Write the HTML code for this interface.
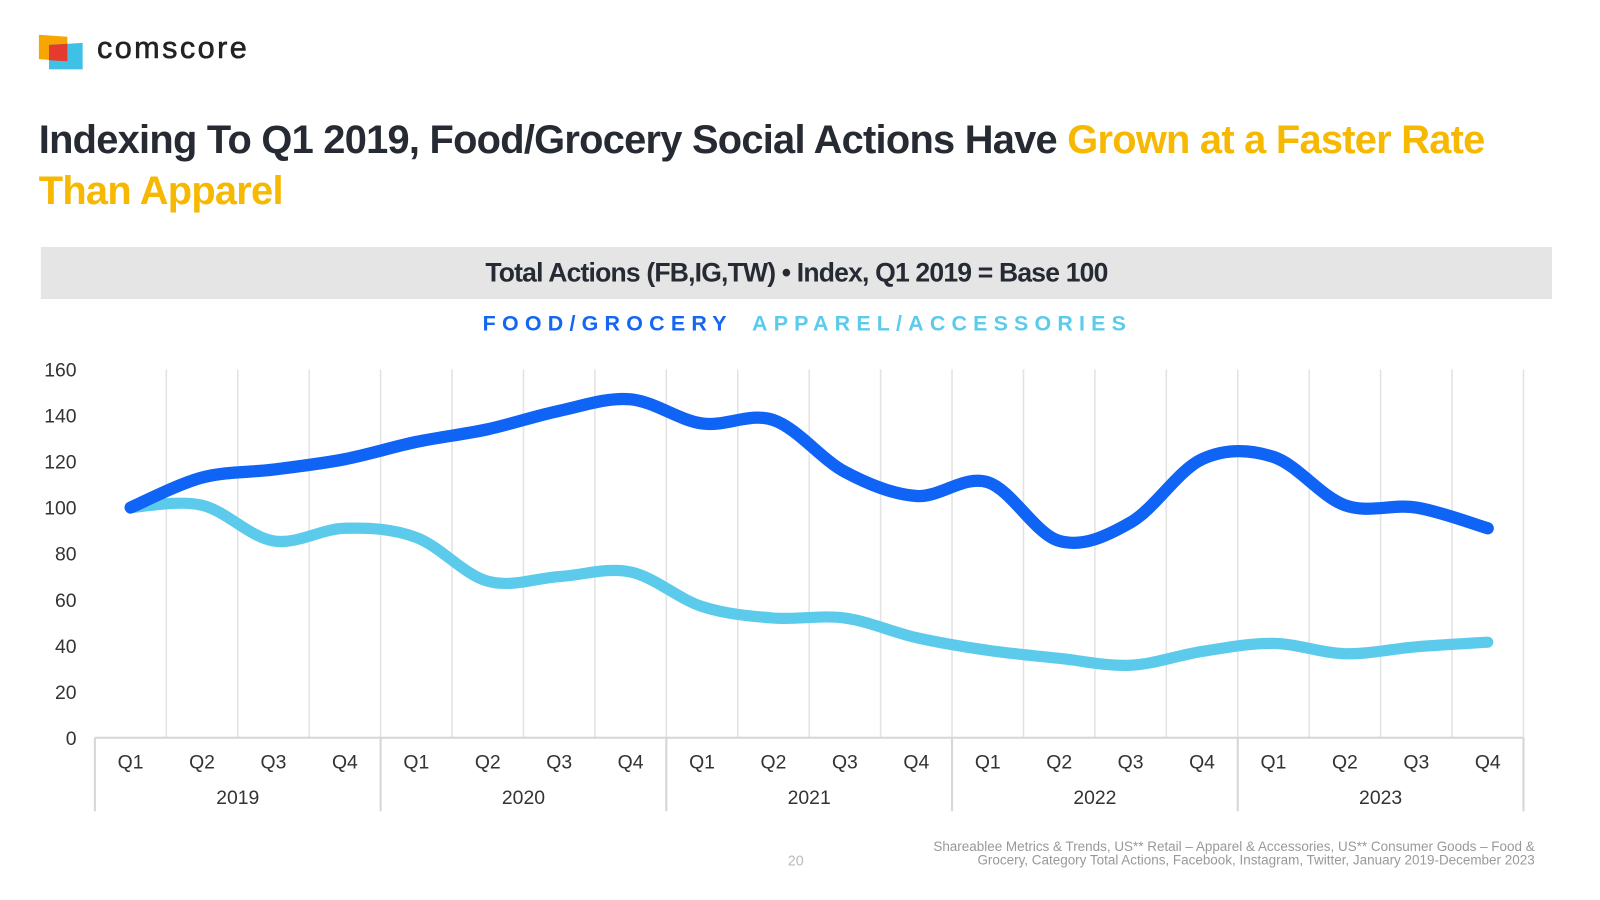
<!DOCTYPE html>
<html><head><meta charset="utf-8"><style>
body{margin:0;width:1600px;height:900px;background:#fff;font-family:"Liberation Sans",sans-serif;overflow:hidden}
#wrap{position:absolute;left:0;top:0;width:1568px;height:882px;transform:scale(1.020408);transform-origin:0 0}
.abs{position:absolute}
</style></head><body>
<div id="wrap">
<div class="abs" style="left:38px;top:34px;width:220px;height:36px">
<svg width="50" height="36" style="position:absolute;left:0;top:0">
<polygon points="0,0 28,2 28,26 0,24" fill="#f7a600"/>
<polygon points="10,10 43,8 43,34 10,34" fill="#3fc1e6"/>
<polygon points="10,10 28,9 28,26 10,25" fill="#e63a2e"/>
</svg>
<span style="position:absolute;left:57px;top:-3px;font-size:30px;color:#222;letter-spacing:2.4px;-webkit-text-stroke:0.6px #222">comscore</span>
</div>
<div class="abs" style="left:38px;top:113px;width:1440px;font-size:39px;font-weight:bold;letter-spacing:-0.72px;line-height:50px;color:#262a33">Indexing To Q1 2019, Food/Grocery Social Actions Have <span style="color:#f6b800">Grown at a Faster Rate Than Apparel</span></div>
<div class="abs" style="left:40px;top:242px;width:1481px;height:51px;background:#e5e5e5;text-align:center;line-height:51px;font-size:26px;font-weight:bold;letter-spacing:-0.8px;color:#262a33">Total Actions (FB,IG,TW) • Index, Q1 2019 = Base 100</div>
<div class="abs" style="left:473px;top:306px;font-size:21px;font-weight:bold;letter-spacing:6.1px;color:#1466f4">FOOD/GROCERY</div>
<div class="abs" style="left:737px;top:306px;font-size:21px;font-weight:bold;letter-spacing:6.05px;color:#5ccbeb">APPAREL/ACCESSORIES</div>
<svg class="abs" id="chart" style="left:0;top:0" width="1568" height="882"></svg>
<div class="abs" style="left:772px;top:835px;font-size:14px;color:#bbb">20</div>
<div class="abs" style="left:864px;top:823px;width:640px;text-align:right;font-size:13.2px;line-height:13px;color:#999">Shareablee Metrics &amp; Trends, US** Retail – Apparel &amp; Accessories, US** Consumer Goods – Food &amp;<br>Grocery, Category Total Actions, Facebook, Instagram, Twitter, January 2019-December 2023</div>
</div>
<script>
const quarters=["Q1","Q2","Q3","Q4"];
const years=["2019","2020","2021","2022","2023"];
const yTicks=[0,20,40,60,80,100,120,140,160];
const foodValues=[100,113,116.5,121,128.5,134,142,147,136.5,138,115.5,105,111,85.5,93.5,121,122,101,100,91];
const apparelValues=[100,101,85.5,91,87,68,70,72,57,52,52,43.5,38,34.5,31.5,37.5,41,36.5,39.5,41.5];
const svg=document.getElementById('chart');
const NS='http://www.w3.org/2000/svg';
const x0=93,step=70,yBase=723,yTop=362,yMax=160;
const xPos=i=>x0+step*(i+0.5);
const yPos=v=>yBase-(v/yMax)*(yBase-yTop);
function mk(t,a){const e=document.createElementNS(NS,t);for(const k in a)e.setAttribute(k,a[k]);svg.appendChild(e);return e;}
const n=years.length*quarters.length;
for(let i=1;i<=n;i++){const g=mk('line',{x1:x0+step*i,x2:x0+step*i,y1:yTop,y2:yBase,stroke:'#e3e3e3','stroke-width':1.5});

}
const ax=mk('line',{x1:x0,x2:x0+step*n,y1:yBase,y2:yBase,stroke:'#d6d6d6','stroke-width':2});


for(let k=0;k<=years.length;k++){const t=mk('line',{x1:x0+step*4*k,x2:x0+step*4*k,y1:yBase,y2:795,stroke:'#d6d6d6','stroke-width':2});

}
yTicks.forEach(v=>{const t=mk('text',{x:75,y:yPos(v)+7,'text-anchor':'end','font-size':19,fill:'#333'});t.textContent=v;

});
for(let i=0;i<n;i++){const t=mk('text',{x:xPos(i),y:753,'text-anchor':'middle','font-size':19,fill:'#333'});t.textContent=quarters[i%4];

}
years.forEach((y,k)=>{const t=mk('text',{x:x0+step*(4*k+2),y:788,'text-anchor':'middle','font-size':19,fill:'#333'});t.textContent=y;

});
function path(vals){const p=vals.map((v,i)=>[xPos(i),yPos(v)]);let d='M'+p[0][0]+','+p[0][1];
for(let i=0;i<p.length-1;i++){const a=p[Math.max(0,i-1)],b=p[i],c=p[i+1],e=p[Math.min(p.length-1,i+2)];
const c1=[b[0]+(c[0]-a[0])/6,b[1]+(c[1]-a[1])/6],c2=[c[0]-(e[0]-b[0])/6,c[1]-(e[1]-b[1])/6];
d+=` C${c1[0]},${c1[1]} ${c2[0]},${c2[1]} ${c[0]},${c[1]}`;}return d;}
const la=mk('path',{d:path(apparelValues),fill:'none',stroke:'#5ccbeb','stroke-width':11,'stroke-linecap':'round','stroke-linejoin':'round'});


const lf=mk('path',{d:path(foodValues),fill:'none',stroke:'#0f63f5','stroke-width':12,'stroke-linecap':'round','stroke-linejoin':'round'});


</script>
</body></html>
